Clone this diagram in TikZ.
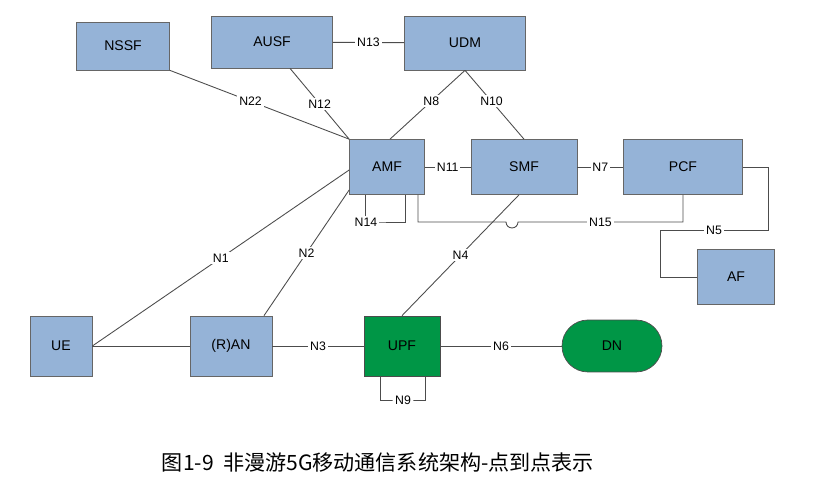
\documentclass[tikz,border=0pt]{standalone}
\usepackage{fontspec}
\setmainfont{Liberation Sans}
\newfontfamily\cjk{Noto Sans CJK SC}
\usetikzlibrary{positioning}
\definecolor{nfblue}{RGB}{149,179,215}
\definecolor{nfgreen}{RGB}{0,150,70}
\tikzset{
  nf/.style={draw=black!60,fill=nfblue,font=\footnotesize,inner sep=0pt},
  up/.style={draw=black!70,fill=nfgreen,font=\footnotesize,inner sep=0pt},
  lbl/.style={fill=white,font=\scriptsize,inner sep=1pt},
  ln/.style={draw=black!70,line width=0.5pt}
}
\begin{document}
\begin{tikzpicture}[x=0.02cm,y=-0.02cm]
  \useasboundingbox (0,0) rectangle (816,479);
  \node[nf,minimum width=1.86cm,minimum height=0.96cm](nssf) at (123,46){NSSF};
  \node[nf,minimum width=2.42cm,minimum height=1.04cm](ausf) at (272,42){AUSF};
  \node[nf,minimum width=2.42cm,minimum height=1.08cm](udm) at (465,43){UDM};
  \node[nf,minimum width=1.5cm,minimum height=1.1cm](amf) at (387,167){AMF};
  \node[nf,minimum width=2.12cm,minimum height=1.1cm](smf) at (524,167){SMF};
  \node[nf,minimum width=2.38cm,minimum height=1.1cm](pcf) at (683,167){PCF};
  \node[nf,minimum width=1.54cm,minimum height=1.1cm](af) at (736,277){AF};
  \node[nf,minimum width=1.24cm,minimum height=1.2cm](ue) at (61,346){UE};
  \node[nf,minimum width=1.64cm,minimum height=1.2cm](ran) at (231,346){(R)AN};
  \node[up,minimum width=1.52cm,minimum height=1.2cm](upf) at (402,346){UPF};
  \node[up,rounded corners=0.52cm,minimum width=2cm,minimum height=1.04cm](dn) at (612,346){DN};
  % control plane
  \draw[ln] (nssf.south east) -- node[lbl,pos=0.45]{N22} (amf.north west);
  \draw[ln] ([xshift=0.36cm]ausf.south) -- node[lbl,pos=0.5]{N12} (amf.north west);
  \draw[ln] (ausf) -- node[lbl]{N13} (udm);
  \draw[ln] (udm.south) -- node[lbl,pos=0.45]{N8} ([xshift=0.06cm]amf.north);
  \draw[ln] (udm.south) -- node[lbl,pos=0.45]{N10} (smf.north);
  \draw[ln] (amf) -- node[lbl]{N11} (smf);
  \draw[ln] (smf) -- node[lbl]{N7} (pcf);
  \draw[ln] ([xshift=-0.44cm]amf.south) |- (367,222) node[lbl,pos=0.75]{N14} -| ([xshift=0.36cm]amf.south);
  \draw[ln] ([xshift=0.62cm]amf.south) |- (506,222) arc[start angle=180,end angle=0,radius=6]
    -- node[lbl]{N15} (683,222) -- (pcf.south);
  \draw[ln] (pcf.east) -- (768,167) |- node[lbl,pos=0.75]{N5} (660,230) |- (af.west);
  \draw[ln] (ue.east) -- node[lbl,pos=0.5]{N1} ([yshift=-0.06cm]amf.west);
  \draw[ln] ([xshift=0.66cm]ran.north) -- node[lbl,pos=0.5]{N2} ([yshift=-0.46cm]amf.west);
  \draw[ln] (upf.north) -- node[lbl,pos=0.5]{N4} ([xshift=-0.1cm]smf.south);
  % user plane
  \draw[ln] (ue) -- (ran);
  \draw[ln] (ran) -- node[lbl]{N3} (upf);
  \draw[ln] (upf) -- node[lbl]{N6} (dn);
  \draw[ln] ([xshift=-0.44cm]upf.south) |- (403,400) node[lbl]{N9} -| ([xshift=0.46cm]upf.south);
  \node[font=\cjk\large](cap) at (378,462){图1-9\ \ 非漫游5G移动通信系统架构-点到点表示};
\end{tikzpicture}
\end{document}
